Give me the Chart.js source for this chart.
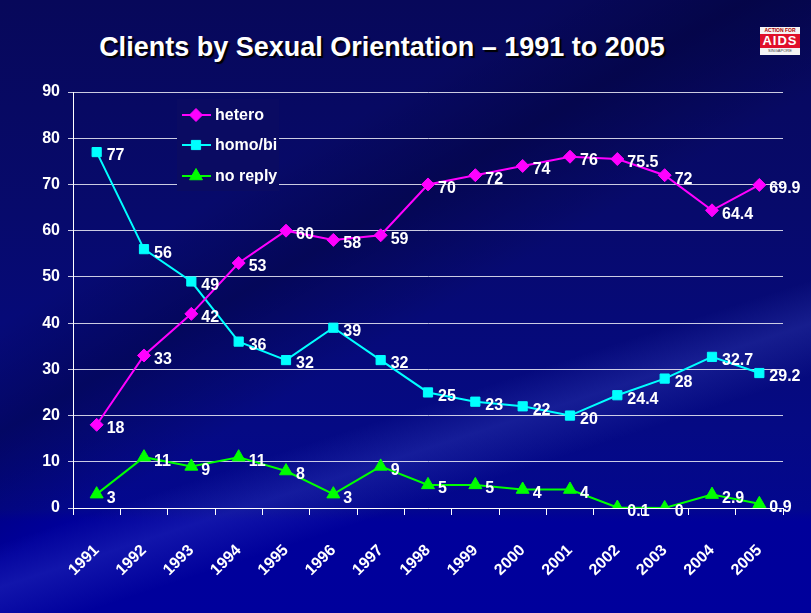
<!DOCTYPE html>
<html><head><meta charset="utf-8">
<script src="https://cdn.jsdelivr.net/npm/chart.js@4"></script>
<style>
html,body{margin:0;padding:0;width:811px;height:613px;overflow:hidden}
body{background:
 linear-gradient(162deg, rgba(0,0,0,0) 62%, rgba(110,130,255,0.16) 67%, rgba(0,0,0,0) 73%),
 linear-gradient(150deg, rgba(0,0,0,0) 30%, rgba(0,0,40,0.35) 40%, rgba(0,0,0,0) 52%),
 linear-gradient(to bottom,#07085a 0%,#070a6c 35%,#050a84 70%,#03078e 83%,#00009a 85%,#00009c 100%);}
#title{position:absolute;left:0;width:764px;top:32px;text-align:center;font:bold 27px "Liberation Sans",Arial,sans-serif;color:#fff;text-shadow:2px 2px 1px #000;white-space:nowrap}
#logo{position:absolute;left:760px;top:27px;width:40px;height:28px;background:#f4f4f4;font-family:"Liberation Sans",Arial,sans-serif;text-align:center;line-height:1}
#logo .a{font-size:5px;color:#a00;font-weight:bold;height:6px;padding-top:1px}
#logo .b{font-size:13px;color:#fff;background:#e0102a;font-weight:bold;height:14px;line-height:14px;letter-spacing:1px}
#logo .c{font-size:4px;color:#444;height:6px;padding-top:1px}
canvas{position:absolute;left:0;top:0}
</style></head>
<body>
<div id="title">Clients by Sexual Orientation – 1991 to 2005</div>
<div id="logo"><div class="a">ACTION FOR</div><div class="b">AIDS</div><div class="c">SINGAPORE</div></div>
<canvas id="c" width="811" height="613"></canvas>
<script>
const years=['1991','1992','1993','1994','1995','1996','1997','1998','1999','2000','2001','2002','2003','2004','2005'];
const hetero=[18,33,42,53,60,58,59,70,72,74,76,75.5,72,64.4,69.9];
const homoBi=[77,56,49,36,32,39,32,25,23,22,20,24.4,28,32.7,29.2];
const noReply=[3,11,9,11,8,3,9,5,5,4,4,0.1,0,2.9,0.9];
const seriesNames=['hetero','homo/bi','no reply'];
const yTicks=[0,10,20,30,40,50,60,70,80,90];

const FONT='"Liberation Sans",Arial,sans-serif';
const FS=16;

const valueLabels={id:'valueLabels',afterDatasetsDraw(chart){
  const ctx=chart.ctx;ctx.save();
  ctx.font='bold '+FS+'px '+FONT;ctx.fillStyle='#fff';ctx.textAlign='left';ctx.textBaseline='middle';
  chart.data.datasets.forEach((ds,i)=>{
    chart.getDatasetMeta(i).data.forEach((pt,j)=>{ctx.fillText(String(ds.data[j]),pt.x+10,pt.y+4);});
  });
  ctx.restore();
}};

const innerLegend={id:'innerLegend',afterDraw(chart){
  const ctx=chart.ctx;ctx.save();
  ctx.fillStyle='#0a0b62';ctx.fillRect(177,99,102,92);
  const ys=[115,145,176];
  chart.data.datasets.forEach((ds,i)=>{
    const y=ys[i];
    ctx.strokeStyle=ds.borderColor;ctx.lineWidth=2;
    ctx.beginPath();ctx.moveTo(182,y);ctx.lineTo(211,y);ctx.stroke();
    ctx.fillStyle=ds.pointBackgroundColor;ctx.strokeStyle=ds.pointBorderColor;ctx.lineWidth=1;
    Chart.helpers.drawPoint(ctx,{pointStyle:ds.pointStyle,radius:ds.pointRadius,rotation:0,borderWidth:1},196,y);
    ctx.fillStyle='#fff';ctx.font='bold '+FS+'px '+FONT;ctx.textAlign='left';ctx.textBaseline='middle';
    ctx.fillText(ds.label,215,y+1);
  });
  ctx.restore();
}};

function mk(label,data,color,style,r){
  return {label,data,borderColor:color,backgroundColor:color,pointBackgroundColor:color,pointBorderColor:color,
    pointStyle:style,pointRadius:r,pointHoverRadius:r,borderWidth:2,pointBorderWidth:1,tension:0,fill:false};
}

new Chart(document.getElementById('c'),{
  type:'line',
  data:{labels:years,datasets:[
    mk(seriesNames[0],hetero,'#ff00ff','rectRot',6.5),
    mk(seriesNames[1],homoBi,'#00ffff','rect',6.5),
    mk(seriesNames[2],noReply,'#00ff00','triangle',7.5)
  ]},
  options:{
    responsive:false,devicePixelRatio:1,animation:false,
    layout:{padding:{left:0,right:28,top:92,bottom:0}},
    plugins:{legend:{display:false},title:{display:false},tooltip:{enabled:false}},
    scales:{
      x:{offset:true,
        grid:{offset:true,drawOnChartArea:false,drawTicks:true,tickLength:7,color:'#ffffff',lineWidth:1},
        border:{color:'#ffffff',width:1},
        ticks:{color:'#fff',font:{family:FONT,size:FS,weight:'bold'},maxRotation:45,minRotation:45,padding:26,autoSkip:false},
        afterFit(s){s.height=105;}
      },
      y:{min:0,max:90,
        afterBuildTicks(s){s.ticks=yTicks.map(v=>({value:v}));},
        grid:{color:'rgba(225,225,240,0.9)',lineWidth:1,tickLength:5},
        border:{color:'#ffffff',width:1},
        ticks:{color:'#fff',font:{family:FONT,size:FS,weight:'bold'},padding:8},
        afterFit(s){s.width=73;}
      }
    }
  },
  plugins:[valueLabels,innerLegend]
});
</script>
</body></html>
